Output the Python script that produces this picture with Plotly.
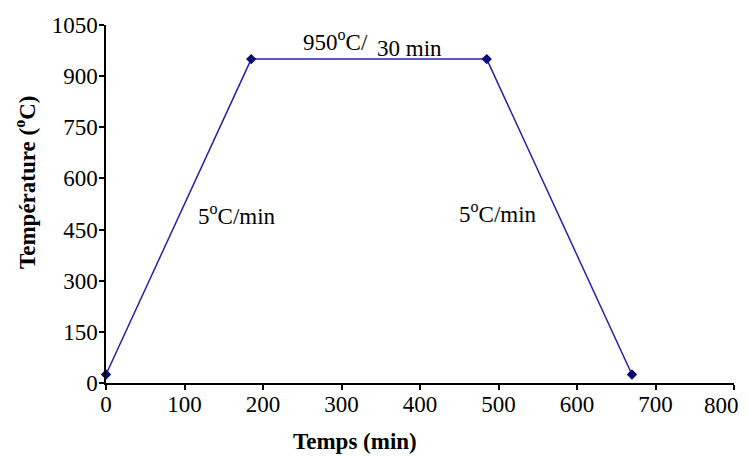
import plotly.graph_objects as go

# Data
temps_min = [0, 185, 485, 670]
temperature_c = [25, 950, 950, 25]
x_ticks = [0, 100, 200, 300, 400, 500, 600, 700, 800]
y_ticks = [0, 150, 300, 450, 600, 750, 900, 1050]
x_ticklabels = ["0", "100", "200", "300", "400", "500", "600", "700", "800"]
y_ticklabels = ["0", "150", "300", "450", "600", "750", "900", "1050"]

FONT = "Liberation Serif, Times New Roman, serif"

fig = go.Figure()
fig.add_trace(go.Scatter(
    x=temps_min, y=temperature_c, mode="lines+markers",
    line=dict(color="#2424A8", width=1.5),
    marker=dict(symbol="diamond", size=8, color="#0A0A7A"),
    showlegend=False, cliponaxis=False,
))

ann_font = dict(family=FONT, size=23, color="black")
fig.add_annotation(x=292, y=1006, xref="x", yref="y", text="950<sup>o</sup>C/", showarrow=False, font=ann_font)
fig.add_annotation(x=387, y=982, xref="x", yref="y", text="30 min", showarrow=False, font=ann_font)
fig.add_annotation(x=167, y=493, xref="x", yref="y", text="5<sup>o</sup>C/min", showarrow=False, font=ann_font)
fig.add_annotation(x=499, y=499, xref="x", yref="y", text="5<sup>o</sup>C/min", showarrow=False, font=ann_font)

# axis titles (placed as in the reference, off-centre)
title_font = dict(family=FONT, size=23, color="black")
fig.add_annotation(x=(355 - 106) / 628, y=(383 - 442) / 358, xref="paper", yref="paper",
                   text="<b>Temps (min)</b>", showarrow=False, font=title_font,
                   xanchor="center", yanchor="middle")
fig.add_annotation(x=(25 - 106) / 628, y=(383 - 182) / 358, xref="paper", yref="paper",
                   text="<b>Température (<sup>o</sup>C)</b>", showarrow=False, font=title_font,
                   textangle=-90, xanchor="center", yanchor="middle")

# the last x tick label sits a little left of its tick (kept inside the page)
fig.add_annotation(x=x_ticks[-1], y=0, xref="x", yref="paper", text=x_ticklabels[-1],
                   showarrow=False, font=dict(family=FONT, size=23, color="black"),
                   xanchor="right", yanchor="top", xshift=7, yshift=-8)

axis_common = dict(
    showgrid=False, zeroline=False, showline=True, linecolor="black", linewidth=1.5,
    ticks="outside", ticklen=5, tickwidth=1.5, tickcolor="black",
    tickfont=dict(family=FONT, size=23, color="black"),
    automargin=False,
)

fig.update_xaxes(range=[0, 800], tickvals=x_ticks, ticktext=x_ticklabels[:-1] + [""],
                 ticklabelstandoff=-5, **axis_common)
fig.update_yaxes(range=[0, 1050], tickvals=y_ticks, ticktext=y_ticklabels, ticklabelstandoff=-3, **axis_common)

# the page body adds an 8px margin, so the figure is 8px smaller and margins shifted by 8
fig.update_layout(
    width=740, height=449,
    margin=dict(l=98, r=14, t=17, b=74),
    plot_bgcolor="white", paper_bgcolor="white",
    font=dict(family=FONT, color="black"),
)

fig.write_html("out.html")
